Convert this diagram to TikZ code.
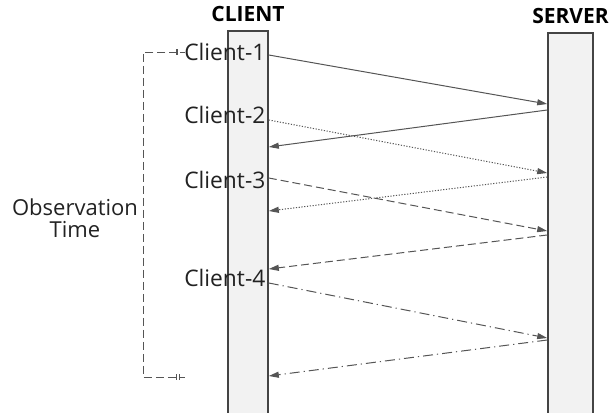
\documentclass[tikz,border=0pt]{standalone}
\usepackage{fontspec}
\setmainfont{Open Sans}
\usetikzlibrary{arrows.meta,positioning,calc}
\definecolor{ink}{HTML}{222222}
\definecolor{wire}{HTML}{555555}
\definecolor{edge}{HTML}{444444}
\definecolor{barfill}{HTML}{F2F2F2}
\tikzset{
  lifeline/.style={draw=edge,line width=0.8pt,fill=barfill,minimum width=#1,minimum height=195pt,inner sep=0pt,anchor=north},
  head/.style={font=\fontsize{10.5}{12}\selectfont\bfseries,text=black,inner sep=2pt},
  clbl/.style={font=\fontsize{11.4}{13}\selectfont,text=ink,anchor=east,inner sep=1.5pt},
  msg/.style={draw=wire,line width=0.5pt,-{Triangle[length=5pt,width=3pt]}},
  dotline/.style={dash pattern=on 0.6pt off 0.8pt},
  dashline/.style={dash pattern=on 4pt off 2pt},
  dashdotline/.style={dash pattern=on 5pt off 2pt on 0.6pt off 2pt},
  brace/.style={draw=wire,line width=0.5pt,dash pattern=on 4pt off 2pt},
}
\begin{document}
\begin{tikzpicture}[x=0.5pt,y=-0.5pt]
  \useasboundingbox (0,0) rectangle (614,412);
  \clip (0,0) rectangle (614,412);
  % the two lifelines
  \node[lifeline=20pt] (client) at (248,30) {};
  \node[lifeline=22.5pt] (server) at (570.5,32) {};
  \node[head,above=2pt of client] (chead) {CLIENT};
  \node[head,above=2pt of server] (shead) {SERVER};
  % requests and replies
  \foreach \s/\a/\b/\c/\d in {solid/55/104/110/147, dotline/120/173/177/211, dashline/178/231/235/269, dashdotline/283/338/340/376} {
    \draw[msg,\s] (client.east |- 0,\a) -- (server.west |- 0,\b);
    \draw[msg,\s] (server.west |- 0,\c) -- (client.east |- 0,\d);
  }
  % client labels sit on top of the bar
  \foreach \n/\y in {1/52,2/115,3/180,4/278}
    \node[clbl] (c\n) at (client.east |- 0,\y) {Client-\n};
  % observation window
  \coordinate (otop) at (180,52);
  \coordinate (obot) at (180,377);
  \draw[brace,{Bar[width=3pt,sep=1pt]Bar[width=3pt]}-{Bar[width=3pt,sep=1pt]Bar[width=3pt]}] (otop) -- (143,52) |- (obot);
  \draw[draw=wire,line width=0.5pt] (otop) -- ++(5,0) (obot) -- ++(5,0);
  \node[font=\fontsize{11}{11}\selectfont,text=ink,align=center] (obs) at (75,218) {Observation\\Time};
\end{tikzpicture}
\end{document}
